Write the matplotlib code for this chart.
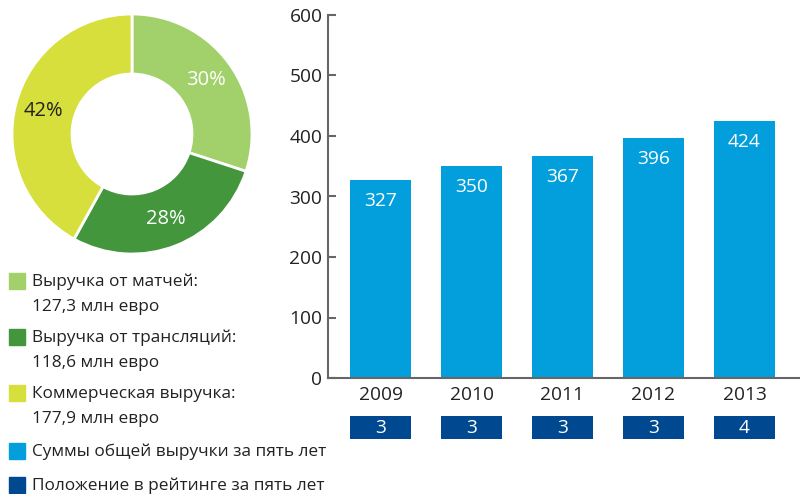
import matplotlib
matplotlib.use("Agg")
import matplotlib.pyplot as plt
from matplotlib.patches import Rectangle

plt.rcParams['font.family'] = ['Open Sans', 'DejaVu Sans']

# Data
pie_labels = ["Выручка от матчей:\n127,3 млн евро",
              "Выручка от трансляций:\n118,6 млн евро",
              "Коммерческая выручка:\n177,9 млн евро"]
pie_values = [127.3, 118.6, 177.9]
pie_colors = ["#a2d06a", "#43963c", "#d7df3c"]
pie_text_colors = ["white", "white", "#222222"]

years = ["2009", "2010", "2011", "2012", "2013"]
revenue = [327, 350, 367, 396, 424]
ranks = [3, 3, 3, 3, 4]
yticks = [0, 100, 200, 300, 400, 500, 600]

bar_color = "#039fdc"
rank_color = "#004990"
text_color = "#222222"
axis_color = "#666666"

W, H = 800, 494
fig = plt.figure(figsize=(8, 4.94), dpi=100)

def fx(x): return x / W
def fy(y): return 1 - y / H

# Donut
axp = fig.add_axes([fx(12), fy(254), fx(240), 240 / H])
wedges, texts, autotexts = axp.pie(
    pie_values, colors=pie_colors, startangle=90, counterclock=False,
    wedgeprops=dict(width=0.5, edgecolor="white", linewidth=2),
    autopct=lambda p: f"{p:.0f}%", pctdistance=0.76,
    textprops=dict(fontsize=14.5))
for t, c in zip(autotexts, pie_text_colors):
    t.set_color(c)
axp.set_xlim(-1.0, 1.0)
axp.set_ylim(-1.0, 1.0)
axp.set_aspect("equal")
axp.axis("off")

# Legend
legend_items = [(pie_labels[0], pie_colors[0], 281),
                (pie_labels[1], pie_colors[1], 337),
                (pie_labels[2], pie_colors[2], 393),
                ("Суммы общей выручки за пять лет", bar_color, 451),
                ("Положение в рейтинге за пять лет", rank_color, 485)]
for label, col, yc in legend_items:
    fig.patches.append(Rectangle((fx(9), fy(yc + 8)), fx(16), 16 / H,
                                 transform=fig.transFigure, color=col))
    lines = label.split("\n")
    for i, ln in enumerate(lines):
        fig.text(fx(32), fy(yc + 1 + i * 25), ln, fontsize=12.4,
                 color=text_color, va="center", ha="left")

# Bar chart
xl = (-0.577, 4.61)
ax = fig.add_axes([fx(328), fy(378), fx(472), (378 - 15) / H])
x = list(range(len(years)))
ax.bar(x, revenue, width=0.67, color=bar_color)
ax.set_xlim(*xl)
ax.set_ylim(0, 600)
ax.set_yticks(yticks)
ax.set_xticks(x)
ax.set_xticklabels(years)
for s in ["top", "right"]:
    ax.spines[s].set_visible(False)
for s in ["left", "bottom"]:
    ax.spines[s].set_color(axis_color)
    ax.spines[s].set_linewidth(1.5)
ax.tick_params(axis="y", direction="in", length=6, width=1.5, color=axis_color,
               labelsize=13.8, labelcolor=text_color, pad=4)
ax.tick_params(axis="x", length=0, labelsize=13.8, labelcolor=text_color, pad=6)
for xi, v in zip(x, revenue):
    ax.annotate(str(v), (xi, v), xytext=(0, -15), textcoords="offset points",
                ha="center", va="center", color="white", fontsize=13.8)

# Rank boxes
axr = fig.add_axes([fx(328), fy(439), fx(472), 23 / H])
axr.bar(x, [1] * len(x), width=0.67, color=rank_color)
axr.set_xlim(*xl)
axr.set_ylim(0, 1)
axr.axis("off")
for xi, r in zip(x, ranks):
    axr.text(xi, 0.5, str(r), ha="center", va="center", color="white", fontsize=13.8)

fig.savefig("out.png", dpi=100)
